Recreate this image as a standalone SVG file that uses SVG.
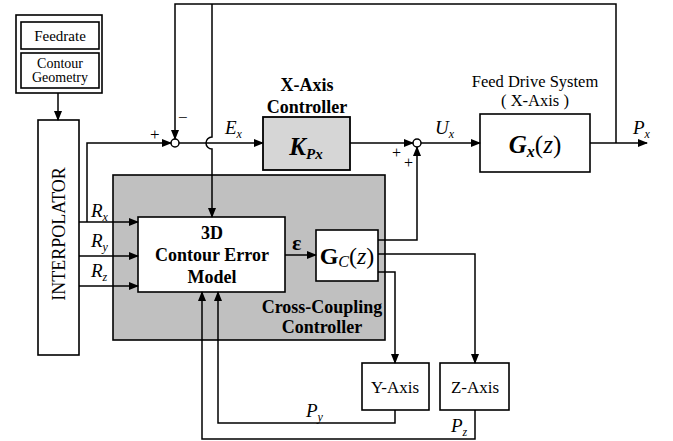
<svg xmlns="http://www.w3.org/2000/svg" width="673" height="441" viewBox="0 0 673 441">
<defs>
<marker id="ar" markerWidth="10" markerHeight="8" refX="9" refY="4" orient="auto" markerUnits="userSpaceOnUse">
<path d="M0,0 L10,4 L0,8 Z" fill="#000"/>
</marker>
</defs>
<style>
.box{fill:#fff;stroke:#000;stroke-width:1.6}
.gray{fill:#c0c0c0;stroke:#000;stroke-width:1.6}
.lgray{fill:#d6d6d6;stroke:#000;stroke-width:1.8}
.ln{fill:none;stroke:#000;stroke-width:1.5}
.ar{marker-end:url(#ar)}
text{font-family:"Liberation Serif","Times New Roman",serif;fill:#000}
.b{font-weight:bold}
.i{font-style:italic}
.c{text-anchor:middle}
</style>
<rect width="673" height="441" fill="#fff"/>

<g id="source">
<rect class="box" x="16" y="15" width="86" height="78"/>
<rect class="box" x="21" y="22" width="78" height="27"/>
<text class="c" x="60" y="41" font-size="15">Feedrate</text>
<rect class="box" x="21" y="53" width="78" height="35"/>
<text class="c" x="60" y="68" font-size="14">Contour</text>
<text class="c" x="60" y="82" font-size="14">Geometry</text>
</g>

<g id="interpolator">
<rect class="box" x="38" y="120" width="41" height="235"/>
<text class="c" transform="translate(65,234) rotate(-90)" font-size="18">INTERPOLATOR</text>
</g>

<g id="ccc">
<rect class="gray" x="113" y="175" width="272" height="165"/>
<text class="c b" x="322" y="313" font-size="18">Cross-Coupling</text>
<text class="c b" x="322" y="333" font-size="18">Controller</text>
</g>

<g id="model">
<rect class="box" x="138" y="217" width="147" height="75"/>
<text class="c b" x="212" y="239" font-size="18">3D</text>
<text class="c b" x="212" y="261" font-size="18">Contour Error</text>
<text class="c b" x="212" y="283" font-size="18">Model</text>
</g>

<g id="gc">
<rect class="box" x="316" y="230" width="62" height="51"/>
<text class="c" x="347" y="264" font-size="24"><tspan class="b">G</tspan><tspan class="i" font-size="16" dy="3">C</tspan><tspan dy="-3">(</tspan><tspan class="i">z</tspan>)</text>
</g>

<g id="kpx">
<text class="c b" x="307" y="91" font-size="18">X-Axis</text>
<text class="c b" x="307" y="113" font-size="18">Controller</text>
<rect class="lgray" x="263" y="117" width="87" height="53"/>
<text class="c b i" x="306" y="155" font-size="25">K<tspan font-size="15" dy="4">Px</tspan></text>
</g>

<g id="gx">
<text class="c" x="535" y="87" font-size="16.5">Feed Drive System</text>
<text class="c" x="535" y="106" font-size="16.5">( X-Axis )</text>
<rect class="box" x="480" y="114" width="110" height="58"/>
<text class="c" x="535" y="153" font-size="25"><tspan class="b i">G</tspan><tspan class="b i" font-size="16" dy="4">x</tspan><tspan dy="-4">(</tspan><tspan class="i">z</tspan>)</text>
</g>

<g id="yaxis">
<rect class="box" x="362" y="363" width="67" height="47"/>
<text class="c" x="395" y="393" font-size="17">Y-Axis</text>
</g>

<g id="zaxis">
<rect class="box" x="440" y="363" width="69" height="47"/>
<text class="c" x="475" y="393" font-size="17">Z-Axis</text>
</g>

<g id="sum1">
<circle cx="175" cy="143" r="4" fill="#fff" stroke="#000" stroke-width="1.5"/>
</g>
<g id="sum2">
<circle cx="417" cy="143" r="4" fill="#fff" stroke="#000" stroke-width="1.5"/>
</g>

<g id="connectors">
<path class="ln ar" d="M58,93 V120"/>
<path class="ln ar" d="M616,143 V4 H175 V139"/>
<path class="ln ar" d="M212,4 V137 A6,6 0 0 0 212,149 V217"/>
<path class="ln ar" d="M79,222 H138"/>
<path class="ln ar" d="M87,222 V143 H171"/>
<path class="ln ar" d="M79,256 H138"/>
<path class="ln ar" d="M79,286 H138"/>
<path class="ln ar" d="M179,143 H263"/>
<path class="ln ar" d="M350,143 H413"/>
<path class="ln ar" d="M421,143 H480"/>
<path class="ln ar" d="M590,143 H647"/>
<path class="ln ar" d="M285,255 H316"/>
<path class="ln ar" d="M378,240 H417 V147"/>
<path class="ln ar" d="M378,254 H475 V363"/>
<path class="ln ar" d="M378,272 H395 V363"/>
<path class="ln ar" d="M395,410 V423 H218 V292"/>
<path class="ln ar" d="M475,410 V439 H202 V292"/>
</g>

<g id="labels">
<text x="150" y="140" font-size="17">+</text>
<text x="178" y="123" font-size="17">−</text>
<text x="392" y="158" font-size="16">+</text>
<text x="404" y="168" font-size="16">+</text>
<text class="i" x="225" y="134" font-size="19">E<tspan font-size="12" dy="4">x</tspan></text>
<text class="i" x="435" y="134" font-size="19">U<tspan font-size="12" dy="4">x</tspan></text>
<text class="i" x="633" y="134" font-size="19">P<tspan font-size="12" dy="4">x</tspan></text>
<text class="i" x="91" y="217" font-size="19">R<tspan font-size="12" dy="4">x</tspan></text>
<text class="i" x="91" y="247" font-size="19">R<tspan font-size="12" dy="4">y</tspan></text>
<text class="i" x="91" y="277" font-size="19">R<tspan font-size="12" dy="4">z</tspan></text>
<text class="i" x="306" y="417" font-size="19">P<tspan font-size="12" dy="4">y</tspan></text>
<text class="i" x="451" y="432" font-size="19">P<tspan font-size="12" dy="4">z</tspan></text>
<text class="b" x="292" y="250" font-size="22">ε</text>
</g>
</svg>
